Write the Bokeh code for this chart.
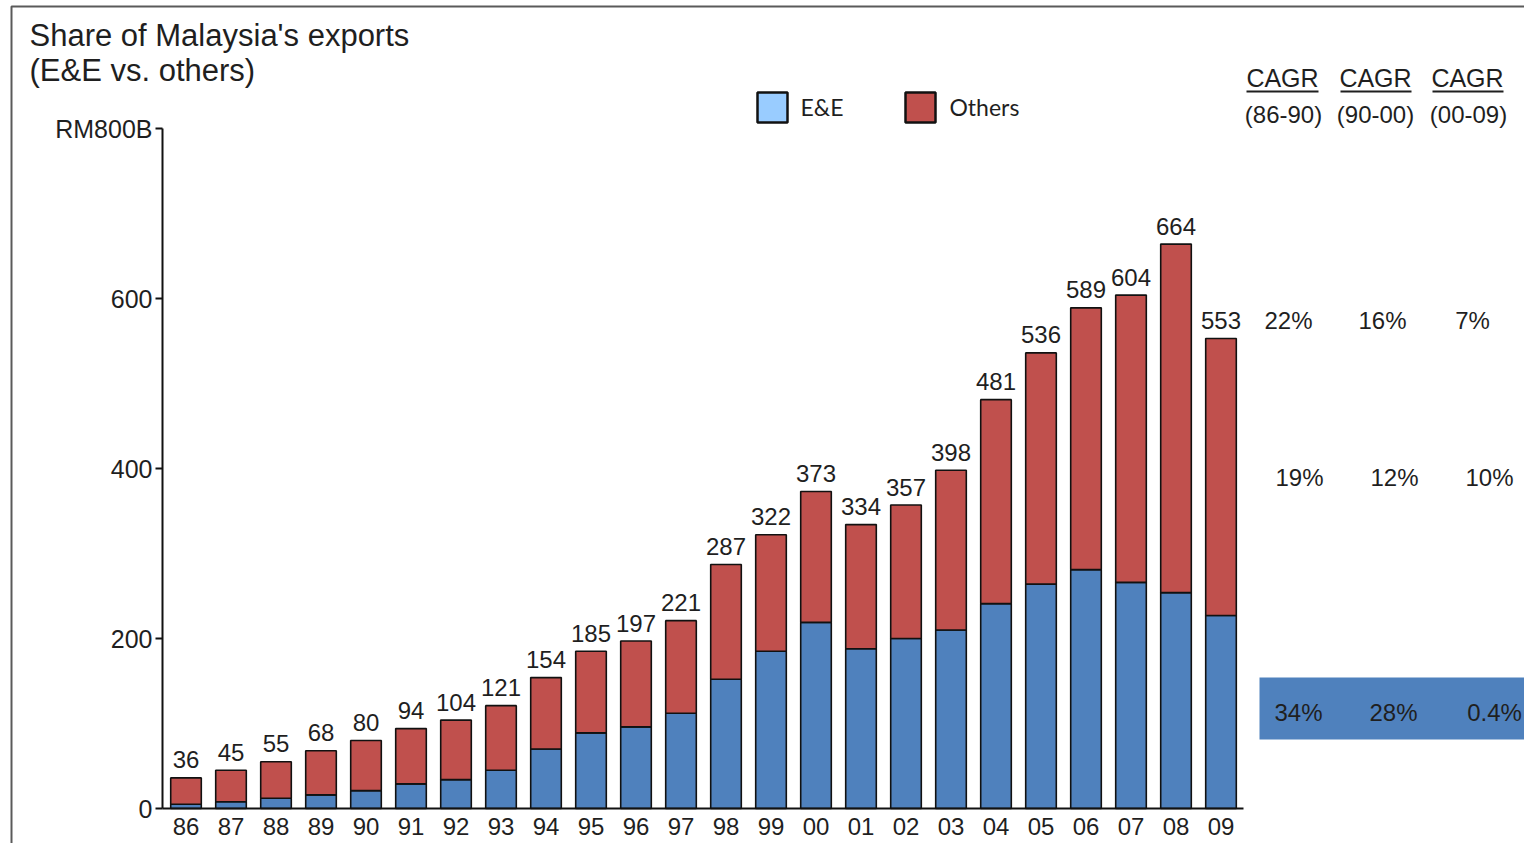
from bokeh.plotting import figure
from bokeh.models import Range1d, LinearAxis, FixedTicker, ColumnDataSource
from bokeh.core.properties import value
from bokeh.embed import file_html
from bokeh.resources import INLINE

# ---------------- data ----------------
years = ["86", "87", "88", "89", "90", "91", "92", "93", "94", "95", "96", "97",
         "98", "99", "00", "01", "02", "03", "04", "05", "06", "07", "08", "09"]
totals = [36, 45, 55, 68, 80, 94, 104, 121, 154, 185, 197, 221,
          287, 322, 373, 334, 357, 398, 481, 536, 589, 604, 664, 553]
ee = [5, 8, 12, 16, 21, 29, 34, 45, 70, 89, 96, 112,
      152, 185, 219, 188, 200, 210, 241, 264, 281, 266, 254, 227]
y_ticks = [0, 200, 400, 600, 800]
y_tick_labels = ["0", "200", "400", "600", "RM800B"]
legend_labels = ["E&E", "Others"]
legend_colors = ["#99CCFF", "#C0504D"]
cagr_header = ["CAGR", "CAGR", "CAGR"]
cagr_periods = ["(86-90)", "(90-00)", "(00-09)"]
cagr_total = ["22%", "16%", "7%"]
cagr_others = ["19%", "12%", "10%"]
cagr_ee = ["34%", "28%", "0.4%"]
title_lines = ["Share of Malaysia's exports", "(E&E vs. others)"]

# ---------------- layout helpers (canvas pixels -> data) ----------------
W, H = 1524, 843
X0, XS = 185.5, 45.0      # pixel centre of first bar, pixels per category
Y0, YS = 808.0, 0.85      # pixel of value 0, pixels per unit
FL, FT = 4, 2             # frame left / top offsets in the canvas


def X(px):
    return (px - X0) / XS


def Y(py):
    return (Y0 - py) / YS


FONT = "Liberation Sans"
TXT = "#1f1f1f"
EE_COL = "#4F81BD"
OT_COL = "#C0504D"

p = figure(width=W, height=H, x_range=Range1d(X(FL), X(W)), y_range=Range1d(Y(H), Y(FT)),
           output_backend="svg", toolbar_location=None,
           min_border_left=FL, min_border_top=FT, min_border_right=0, min_border_bottom=0,
           x_axis_type=None, y_axis_type=None)
p.outline_line_color = None
p.background_fill_color = "white"
p.border_fill_color = "white"

# page frame: only left and top edges are visible in the picture
p.quad(left=[X(11)], right=[X(W + 20)], top=[Y(6)], bottom=[Y(H + 20)],
       fill_color=None, line_color="#5a5a5a", line_width=2)

# ---------------- bars ----------------
idx = list(range(len(years)))
src = ColumnDataSource(dict(x=idx, ee=ee, tot=totals, lab=[str(t) for t in totals]))
p.vbar(x="x", bottom=0, top="ee", width=0.68, source=src,
       fill_color=EE_COL, line_color="#111111", line_width=1.6)
p.vbar(x="x", bottom="ee", top="tot", width=0.68, source=src,
       fill_color=OT_COL, line_color="#111111", line_width=1.6)
p.text(x="x", y="tot", text="lab", source=src, text_align="center", text_baseline="middle",
       y_offset=-18, text_font=value(FONT), text_font_size="24px", text_color=TXT)

# ---------------- axes ----------------
yaxis = LinearAxis(fixed_location=X(162), bounds=(0, 800),
                   ticker=FixedTicker(ticks=y_ticks),
                   major_label_overrides={t: l for t, l in zip(y_ticks, y_tick_labels)})
yaxis.axis_line_width = 2
yaxis.axis_line_color = "#111111"
yaxis.major_tick_out = 7
yaxis.major_tick_in = 0
yaxis.major_tick_line_width = 2
yaxis.major_tick_line_color = "#111111"
yaxis.minor_tick_out = 0
yaxis.minor_tick_in = 0
yaxis.major_label_standoff = 3
yaxis.major_label_text_font = FONT
yaxis.major_label_text_font_size = "25px"
yaxis.major_label_text_color = TXT
p.add_layout(yaxis, "left")

xaxis = LinearAxis(fixed_location=0, bounds=(-0.52, 23.5),
                   ticker=FixedTicker(ticks=idx),
                   major_label_overrides={i: y for i, y in zip(idx, years)})
xaxis.axis_line_width = 2
xaxis.axis_line_color = "#111111"
xaxis.major_tick_out = 0
xaxis.major_tick_in = 0
xaxis.minor_tick_out = 0
xaxis.minor_tick_in = 0
xaxis.major_label_standoff = 9
xaxis.major_label_text_font = FONT
xaxis.major_label_text_font_size = "24px"
xaxis.major_label_text_color = TXT
p.add_layout(xaxis, "below")

# ---------------- title ----------------
p.text(x=[X(29), X(29)], y=[Y(35), Y(70)], text=title_lines, text_align="left",
       text_baseline="middle", text_font=value(FONT), text_font_size="31px", text_color=TXT)

# ---------------- legend ----------------
leg_sq_x = [X(772), X(920)]
leg_tx_x = [X(800), X(949)]
p.rect(x=leg_sq_x, y=[Y(107)] * 2, width=30, height=30, width_units="screen",
       height_units="screen", fill_color=legend_colors, line_color="#111111", line_width=2.5)
p.text(x=leg_tx_x, y=[Y(106)] * 2, text=legend_labels, text_align="left", text_baseline="middle",
       text_font=value("Lato"), text_font_size="23px", text_color=TXT)

# ---------------- CAGR table ----------------
p.quad(left=[X(1259)], right=[X(W + 20)], top=[Y(677)], bottom=[Y(739)],
       fill_color=EE_COL, line_color=None)

hdr_x = [X(1282), X(1375), X(1467)]
p.text(x=hdr_x, y=[Y(77)] * 3, text=cagr_header, text_align="center", text_baseline="middle",
       text_font=value(FONT), text_font_size="25px", text_color=TXT)
p.segment(x0=[X(1246), X(1340), X(1432)], x1=[X(1318), X(1411), X(1503)],
          y0=[Y(91)] * 3, y1=[Y(91)] * 3, line_color=TXT, line_width=2)
p.text(x=[X(1283), X(1375), X(1468)], y=[Y(114)] * 3, text=cagr_periods, text_align="center",
       text_baseline="middle", text_font=value(FONT), text_font_size="24px", text_color=TXT)
p.text(x=[X(1288), X(1382), X(1472)], y=[Y(320)] * 3, text=cagr_total, text_align="center",
       text_baseline="middle", text_font=value(FONT), text_font_size="24px", text_color=TXT)
p.text(x=[X(1299), X(1394), X(1489)], y=[Y(477)] * 3, text=cagr_others, text_align="center",
       text_baseline="middle", text_font=value(FONT), text_font_size="24px", text_color=TXT)
p.text(x=[X(1298), X(1393), X(1494)], y=[Y(712)] * 3, text=cagr_ee, text_align="center",
       text_baseline="middle", text_font=value(FONT), text_font_size="24px", text_color=TXT)

open("out.html", "w").write(file_html(p, INLINE))
